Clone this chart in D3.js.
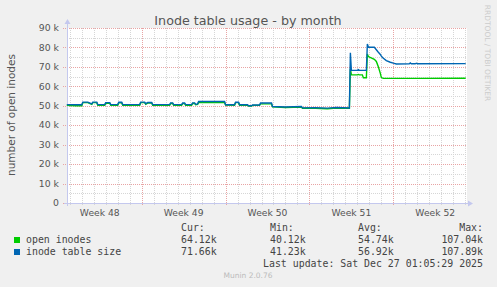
<!DOCTYPE html>
<html>
<head>
<meta charset="utf-8">
<script src="https://cdn.jsdelivr.net/npm/d3@7"></script>
<style>
  body { margin: 0; background: #f0f0f0; }
  svg { display: block; }
  text { font-family: "DejaVu Sans", sans-serif; }
  .mono { font-family: "DejaVu Sans Mono", monospace; font-size: 9.9px; fill: #444; }
</style>
</head>
<body>
<div id="chart"></div>
<script>
// samples (UTC), values in thousands
const times = [
  "2025-11-23T18:00", "2025-11-24T12:00", "2025-11-25T00:00", "2025-11-25T02:00",
  "2025-11-25T12:00", "2025-11-25T20:00", "2025-11-25T22:00", "2025-11-26T06:00",
  "2025-11-26T08:00", "2025-11-26T22:00", "2025-11-27T00:00", "2025-11-27T08:00",
  "2025-11-27T10:00", "2025-11-28T00:00", "2025-11-28T02:00", "2025-11-28T08:00",
  "2025-11-28T10:00", "2025-11-29T20:00", "2025-11-29T22:00", "2025-11-30T06:00",
  "2025-11-30T08:00", "2025-11-30T12:00", "2025-11-30T20:00", "2025-11-30T22:00",
  "2025-12-02T08:00", "2025-12-02T10:00", "2025-12-02T14:00", "2025-12-02T16:00",
  "2025-12-03T08:00", "2025-12-03T10:00", "2025-12-03T14:00", "2025-12-03T16:00",
  "2025-12-04T04:00", "2025-12-04T06:00", "2025-12-04T10:00", "2025-12-04T12:00",
  "2025-12-04T16:00", "2025-12-04T18:00", "2025-12-06T22:00", "2025-12-07T00:00",
  "2025-12-07T18:00", "2025-12-07T20:00", "2025-12-08T02:00", "2025-12-08T04:00",
  "2025-12-08T20:00", "2025-12-08T22:00", "2025-12-09T04:00", "2025-12-09T06:00",
  "2025-12-09T20:00", "2025-12-09T22:00", "2025-12-10T20:00", "2025-12-10T22:00",
  "2025-12-12T00:00", "2025-12-13T08:00", "2025-12-13T10:00", "2025-12-14T12:00",
  "2025-12-15T12:00", "2025-12-16T06:00", "2025-12-17T08:00", "2025-12-17T10:00",
  "2025-12-17T12:00", "2025-12-18T00:00", "2025-12-18T02:00", "2025-12-18T04:00",
  "2025-12-18T10:00", "2025-12-18T12:00", "2025-12-18T18:00", "2025-12-18T20:00",
  "2025-12-18T22:00", "2025-12-19T10:00", "2025-12-19T14:00", "2025-12-19T18:00",
  "2025-12-19T22:00", "2025-12-20T00:00", "2025-12-20T04:00", "2025-12-20T10:00",
  "2025-12-20T18:00", "2025-12-21T00:00", "2025-12-21T06:00", "2025-12-22T08:00",
  "2025-12-22T10:00", "2025-12-22T12:00", "2025-12-22T20:00", "2025-12-22T22:00",
  "2025-12-23T00:00", "2025-12-27T01:00"
];
const tableSize = [
  50.6, 50.5, 50.5, 51.9, 51.9, 51.0, 51.9, 51.9,
  50.6, 50.6, 51.6, 51.6, 50.6, 50.6, 51.8, 51.8,
  50.6, 50.6, 51.9, 51.9, 51.0, 51.7, 51.7, 50.6,
  50.6, 51.5, 51.5, 50.6, 50.6, 51.4, 51.4, 50.6,
  50.6, 51.5, 51.5, 50.8, 51.0, 52.2, 52.2, 50.5,
  50.5, 51.8, 51.8, 50.5, 50.5, 50.0, 50.0, 50.4,
  50.4, 51.4, 51.4, 49.6, 49.4, 49.6, 48.9, 49.0,
  48.8, 49.1, 48.9, 77.3, 68.2, 68.2, 68.6, 68.2,
  68.2, 68.2, 68.2, 81.8, 80.2, 80.1, 78.8, 77.5,
  76.4, 75.5, 74.4, 73.2, 72.4, 71.9, 71.5, 71.6,
  72.0, 71.6, 71.6, 71.9, 71.6, 71.66
];
const openInodes = [
  50.3, 50.0, 50.0, 51.6, 51.6, 50.7, 51.6, 51.6,
  50.3, 50.3, 51.3, 51.3, 50.3, 50.3, 51.5, 51.5,
  50.3, 50.3, 51.6, 51.6, 50.8, 51.4, 51.4, 50.3,
  50.3, 51.2, 51.2, 50.3, 50.3, 51.1, 51.1, 50.3,
  50.3, 51.2, 51.2, 50.5, 50.7, 51.7, 51.7, 50.4,
  50.3, 51.6, 51.6, 50.3, 50.3, 49.8, 49.8, 50.2,
  50.2, 51.0, 51.0, 49.4, 49.1, 49.3, 48.7, 48.7,
  48.5, 48.8, 48.7, 69.0, 66.0, 65.9, 66.1, 65.9,
  65.9, 64.4, 64.4, 76.6, 75.3, 73.9, 72.8, 70.1,
  66.7, 64.5, 64.1, 64.1, 64.1, 64.1, 64.1, 64.1,
  64.1, 64.1, 64.1, 64.1, 64.1, 64.12
];
const yTicks = [0, 10, 20, 30, 40, 50, 60, 70, 80, 90];
const legendRows = [
  { name: "open inodes", color: "#00cc00", cur: "64.12k", min: "40.12k", avg: "54.74k", max: "107.04k" },
  { name: "inode table size", color: "#0066b3", cur: "71.66k", min: "41.23k", avg: "56.92k", max: "107.89k" }
];

const W = 497, H = 287;
const parse = d3.utcParse("%Y-%m-%dT%H:%M");
const tStart = parse("2025-11-23T18:22"), tEnd = parse("2025-12-27T03:36");

const svg = d3.select("#chart").append("svg")
    .attr("width", W).attr("height", H);
svg.append("rect").attr("width", W).attr("height", H).attr("fill", "#f0f0f0");

const x = d3.scaleUtc().domain([tStart, tEnd]).range([67, 467]);
const y = d3.scaleLinear().domain([0, 90]).range([203, 28]);
const yTop = y(90), yBot = y(0);

// canvas
svg.append("rect").attr("x", 67).attr("y", yTop)
    .attr("width", 400).attr("height", yBot - yTop).attr("fill", "#fff");

const grid = svg.append("g").attr("shape-rendering", "crispEdges");
// minor horizontal every 5k
d3.range(5, 90, 10).forEach(v => {
  grid.append("line").attr("x1", 67).attr("x2", 467)
      .attr("y1", Math.round(y(v)) + 0.5).attr("y2", Math.round(y(v)) + 0.5)
      .attr("stroke", "#d6d6d6").attr("stroke-dasharray", "1,1");
});
// minor vertical every day
d3.utcDay.range(tStart, tEnd).forEach(d => {
  const px = Math.round(x(d)) + 0.5;
  grid.append("line").attr("x1", px).attr("x2", px)
      .attr("y1", yTop).attr("y2", yBot + 2)
      .attr("stroke", "#d6d6d6").attr("stroke-dasharray", "1,1");
});
// major horizontal every 10k
yTicks.forEach(v => {
  const py = Math.round(y(v)) + 0.5;
  grid.append("line").attr("x1", 63).attr("x2", 467)
      .attr("y1", py).attr("y2", py)
      .attr("stroke", "#e8a4a4").attr("stroke-dasharray", "1,1");
});
// major vertical on week starts
d3.utcSunday.range(tStart, tEnd).forEach(d => {
  const px = Math.round(x(d)) + 0.5;
  grid.append("line").attr("x1", px).attr("x2", px)
      .attr("y1", yTop).attr("y2", yBot + 3)
      .attr("stroke", "#e8a4a4").attr("stroke-dasharray", "1,1");
});

// y tick labels
svg.append("g").selectAll("text").data(yTicks).join("text")
    .attr("x", 59).attr("y", d => y(d))
    .attr("dy", "0.35em").attr("text-anchor", "end")
    .attr("font-size", "9.3px").attr("fill", "#555")
    .text(d => d === 0 ? "0" : d + " k");

// week labels, centred mid-week
const weekFmt = d3.utcFormat("%V");
const weeks = d3.utcSunday.range(d3.utcSunday.floor(tStart), tEnd)
    .map(d => new Date(+d + 3.5 * 864e5)).filter(d => d <= tEnd);
svg.append("g").selectAll("text").data(weeks).join("text")
    .attr("x", d => x(d)).attr("y", 216)
    .attr("text-anchor", "middle").attr("font-size", "9.2px").attr("fill", "#555")
    .text(d => "Week " + (+weekFmt(d)));

// axes
const axisCol = "#c4c8ee";
svg.append("line").attr("x1", 67.5).attr("x2", 67.5).attr("y1", yBot + 3).attr("y2", 22)
    .attr("stroke", axisCol).attr("shape-rendering", "crispEdges");
svg.append("line").attr("x1", 64).attr("x2", 470).attr("y1", yBot + 0.5).attr("y2", yBot + 0.5)
    .attr("stroke", axisCol).attr("shape-rendering", "crispEdges");
svg.append("path").attr("d", "M64.5,24 L67.5,19 L70.5,24 Z").attr("fill", axisCol);
svg.append("path").attr("d", `M468,${yBot - 2.5} L473,${yBot + 0.5} L468,${yBot + 3.5} Z`).attr("fill", axisCol);

// lines
const series = [
  { vals: openInodes, color: "#00cc00" },
  { vals: tableSize, color: "#0066b3" }
];
const line = d3.line().x(d => x(d[0])).y(d => y(d[1]));
series.forEach(s => {
  const pts = times.map((t, i) => [parse(t), s.vals[i]]);
  svg.append("path").datum(pts).attr("d", line)
      .attr("fill", "none").attr("stroke", s.color).attr("stroke-width", 1.4)
      .attr("stroke-linejoin", "miter");
});

// title
svg.append("text").attr("x", 248).attr("y", 25).attr("text-anchor", "middle")
    .attr("font-size", "12.7px").attr("fill", "#555")
    .text("Inode table usage - by month");

// y axis title
svg.append("text").attr("transform", "translate(15,115) rotate(-90)")
    .attr("text-anchor", "middle").attr("font-size", "10.5px").attr("fill", "#555")
    .text("number of open inodes");

// watermark
svg.append("text").attr("transform", "translate(485,53) rotate(90)")
    .attr("text-anchor", "middle").attr("font-size", "7.5px").attr("fill", "#ccc")
    .text("RRDTOOL / TOBI OETIKER");

// legend
const lg = svg.append("g");
const hdrY = 231;
[["Cur:", 181, "start"], ["Min:", 270, "start"], ["Avg:", 358, "start"], ["Max:", 483, "end"]]
  .forEach(([t, px, anc]) => lg.append("text").attr("class", "mono")
      .attr("x", px).attr("y", hdrY).attr("text-anchor", anc).text(t));
legendRows.forEach((r, i) => {
  const ry = 243 + i * 12;
  lg.append("rect").attr("x", 14).attr("y", ry - 6).attr("width", 6).attr("height", 6)
      .attr("fill", r.color);
  lg.append("text").attr("class", "mono").attr("x", 26).attr("y", ry).text(r.name);
  lg.append("text").attr("class", "mono").attr("x", 181).attr("y", ry).text(r.cur);
  lg.append("text").attr("class", "mono").attr("x", 270).attr("y", ry).text(r.min);
  lg.append("text").attr("class", "mono").attr("x", 358).attr("y", ry).text(r.avg);
  lg.append("text").attr("class", "mono").attr("x", 483).attr("y", ry)
      .attr("text-anchor", "end").text(r.max);
});
lg.append("text").attr("class", "mono").attr("x", 483).attr("y", 267)
    .attr("text-anchor", "end").text("Last update: Sat Dec 27 01:05:29 2025");
svg.append("text").attr("x", 248).attr("y", 278).attr("text-anchor", "middle")
    .attr("font-size", "7.5px").attr("fill", "#bbb").text("Munin 2.0.76");
</script>
</body>
</html>
